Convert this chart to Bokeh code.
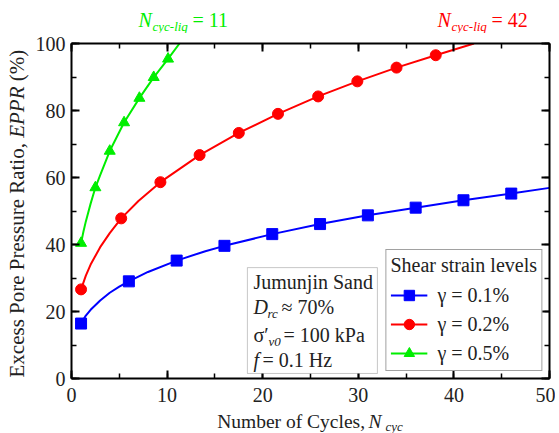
import math
from bokeh.plotting import figure
from bokeh.layouts import column, row
from bokeh.models import (Label, Legend, LegendItem, LinearAxis, SingleIntervalTicker,
                          BoxAnnotation, Range1d)
from bokeh.embed import file_html
from bokeh.resources import INLINE

FONT = "Liberation Serif"
BLUE = "#0000FF"
RED = "#FF0000"
GREEN = "#00EE00"
INK = "#222222"

# ---- data ----
blue_x = [1, 6, 11, 16, 21, 26, 31, 36, 41, 46]
blue_y = [16.4, 29.0, 35.2, 39.6, 43.1, 46.1, 48.7, 51.0, 53.2, 55.2]
blue_fit_x = [1, 1.5, 2, 3, 4, 5, 6, 8, 11, 14, 16, 21, 26, 31, 36, 41, 46, 50]
blue_fit_y = [16.4, 18.8, 20.5, 23.3, 25.6, 27.4, 29.0, 31.8, 35.2, 38.0, 39.6, 43.1, 46.1,
              48.7, 51.0, 53.2, 55.2, 56.9]

red_x = [1, 5.2, 9.3, 13.4, 17.5, 21.6, 25.8, 29.9, 34.0, 38.1]
red_y = [26.6, 47.8, 58.6, 66.7, 73.3, 79.0, 84.2, 88.7, 92.8, 96.5]
red_fit_x = [1, 1.5, 2, 3, 4, 5.2, 7, 9.3, 13.4, 17.5, 21.6, 25.8, 29.9, 34.0, 38.1, 42.1]
red_fit_y = [26.6, 30.7, 34.0, 39.2, 43.4, 47.8, 53.0, 58.6, 66.7, 73.3, 79.0, 84.2, 88.7,
             92.8, 96.5, 100]

green_x = [1, 2.5, 4.0, 5.5, 7.1, 8.6, 10.1]
green_y = [40.4, 57.0, 67.9, 76.4, 83.7, 89.9, 95.4]
green_fit_x = [1, 1.25, 1.5, 2, 2.5, 3, 4, 5.5, 7.1, 8.6, 10.1, 11.3]
green_fit_y = [40.4, 43.9, 46.9, 52.2, 57.0, 60.7, 67.9, 76.4, 83.7, 89.9, 95.4, 100]

legend_labels = ["γ = 0.1%", "γ = 0.2%", "γ = 0.5%"]
legend_title = "Shear strain levels"

# ---- layout geometry (px) ----
LEFT_W = 32
TOP_H = 33
MAIN_TOP, MAIN_BOTTOM, MAIN_LEFT, MAIN_RIGHT = 10, 32, 39, 6
FRAME_W, FRAME_H = 478, 335
MAIN_H = MAIN_TOP + FRAME_H + MAIN_BOTTOM
TOTAL_W = LEFT_W + MAIN_LEFT + FRAME_W + MAIN_RIGHT
BOTTOM_H = 433 - TOP_H - MAIN_H

p = figure(frame_width=FRAME_W, frame_height=FRAME_H, title=None,
           x_range=Range1d(0, 50), y_range=Range1d(0, 100),
           output_backend="svg", toolbar_location=None,
           min_border_left=MAIN_LEFT, min_border_right=MAIN_RIGHT,
           min_border_top=MAIN_TOP, min_border_bottom=MAIN_BOTTOM)
p.xgrid.visible = False
p.ygrid.visible = False
p.outline_line_color = None
p.background_fill_color = "white"
p.border_fill_color = "white"


def style_axis(ax, interval, show_labels, standoff=6):
    ax.ticker = SingleIntervalTicker(interval=interval, num_minor_ticks=2)
    ax.axis_line_width = 2
    ax.axis_line_color = "black"
    ax.major_tick_in = 8
    ax.major_tick_out = 0
    ax.minor_tick_in = 5
    ax.minor_tick_out = 0
    ax.major_tick_line_width = 2
    ax.minor_tick_line_width = 1.5
    ax.major_tick_line_color = "black"
    ax.minor_tick_line_color = "black"
    ax.major_label_text_font = FONT
    ax.major_label_text_font_size = "20px"
    ax.major_label_text_color = INK
    ax.major_label_standoff = standoff
    if not show_labels:
        ax.major_label_text_font_size = "1px"
        ax.major_label_text_color = None
        ax.major_label_standoff = 0


style_axis(p.xaxis[0], 10, True, standoff=9)
style_axis(p.yaxis[0], 20, True, standoff=6)
top_ax = LinearAxis()
right_ax = LinearAxis()
style_axis(top_ax, 10, False)
style_axis(right_ax, 20, False)
p.add_layout(top_ax, "above")
p.add_layout(right_ax, "right")

bl = p.line(blue_fit_x, blue_fit_y, line_color=BLUE, line_width=2)
bs = p.scatter(blue_x, blue_y, marker="square", size=11, fill_color=BLUE, line_color=BLUE)
rl = p.line(red_fit_x, red_fit_y, line_color=RED, line_width=2)
rs = p.scatter(red_x, red_y, marker="circle", size=11, fill_color=RED, line_color=RED)
gl = p.line(green_fit_x, green_fit_y, line_color=GREEN, line_width=2)
gs = p.scatter(green_x, green_y, marker="triangle", size=11, fill_color=GREEN, line_color=GREEN)

legend = Legend(items=[LegendItem(label=legend_labels[0], renderers=[bl, bs]),
                       LegendItem(label=legend_labels[1], renderers=[rl, rs]),
                       LegendItem(label=legend_labels[2], renderers=[gl, gs])],
                location="bottom_right", title=legend_title)
legend.title_text_font = FONT
legend.title_text_font_size = "20px"
legend.title_text_font_style = "normal"
legend.title_text_color = INK
legend.title_standoff = 5
legend.label_text_font = FONT
legend.label_text_font_size = "20px"
legend.label_text_color = INK
legend.glyph_width = 37
legend.glyph_height = 26
legend.label_height = 26
legend.label_standoff = 10
legend.spacing = 3
legend.padding = 4
legend.margin = 7
legend.border_line_color = "#444444"
legend.border_line_width = 1
legend.background_fill_color = "white"
legend.background_fill_alpha = 1
p.add_layout(legend)

# info box
p.add_layout(BoxAnnotation(left=18.4, right=32.0, bottom=1.5, top=33.1,
                           fill_color="white", fill_alpha=1,
                           line_color="#444444", line_width=1))


def lab(fig, x, y, text, size=20.0, style="normal", color=INK, angle=0.0):
    """y is the text baseline (px, upward); converted to the text middle."""
    mid = y + 0.3375 * size
    fig.add_layout(Label(x=x, y=mid, x_units="screen", y_units="screen", text=text,
                         text_font=FONT, text_font_size=f"{size}px", text_font_style=style,
                         text_color=color, text_align="left", text_baseline="middle",
                         angle=angle))


# info box text (frame-relative px, baselines)
lab(p, 182, 90, "Jumunjin Sand")
lab(p, 182, 65, "D", style="italic")
lab(p, 196, 61, "rc", size=13, style="italic")
lab(p, 210, 65, "≈ 70%")
lab(p, 182, 37, "σ′")
lab(p, 197, 33, "v0", size=13, style="italic")
lab(p, 212, 37, "= 100 kPa")
lab(p, 182, 12, "f", style="italic")
lab(p, 191, 12, "= 0.1 Hz")


def strip(w, h):
    s = figure(width=w, height=h, x_range=Range1d(0, w), y_range=Range1d(0, h), title=None,
               output_backend="svg", toolbar_location=None,
               x_axis_type=None, y_axis_type=None,
               min_border=0, min_border_left=0, min_border_right=0,
               min_border_top=0, min_border_bottom=0)
    s.grid.visible = False
    s.outline_line_color = None
    s.background_fill_color = "white"
    s.border_fill_color = "white"
    return s


# top strip: liquefaction annotations (baseline at page y 26)
top = strip(TOTAL_W, TOP_H)
by = TOP_H - 26
lab(top, 138, by, "N", style="italic", color=GREEN)
lab(top, 152, by - 4.5, "cyc-liq", size=13, style="italic", color=GREEN)
lab(top, 192, by, "= 11", color=GREEN)
lab(top, 437, by, "N", style="italic", color=RED)
lab(top, 451, by - 4.5, "cyc-liq", size=13, style="italic", color=RED)
lab(top, 491, by, "= 42", color=RED)

# left strip: y axis title (rotated); its frame is aligned with the main frame
left = strip(LEFT_W, MAIN_H)
A = math.pi / 2
FS = 21.0
ystart = 1.0


def rlab(y, text, style="normal"):
    left.add_layout(Label(x=24 - 0.3375 * FS, y=y, x_units="screen", y_units="screen",
                          text=text, text_font=FONT, text_font_size=f"{FS}px",
                          text_font_style=style, text_color=INK, text_align="left",
                          text_baseline="middle", angle=A))


rlab(ystart, "Excess Pore Pressure Ratio, ")
rlab(ystart + 239.7, "EPPR", style="italic")
rlab(ystart + 296.3, "(%)")

# bottom strip: x axis title (baseline at page y 427.5)
bottom = strip(TOTAL_W, BOTTOM_H)
xb = 433 - 427.5
lab(bottom, 216.7, xb, "Number of Cycles, ", size=19.5)
lab(bottom, 368, xb, "N", size=19.5, style="italic")
lab(bottom, 385, xb - 2.5, "cyc", size=13, style="italic")

layout = column(top, row(left, p, spacing=0), bottom, spacing=0)
open("out.html", "w").write(file_html(layout, INLINE))
